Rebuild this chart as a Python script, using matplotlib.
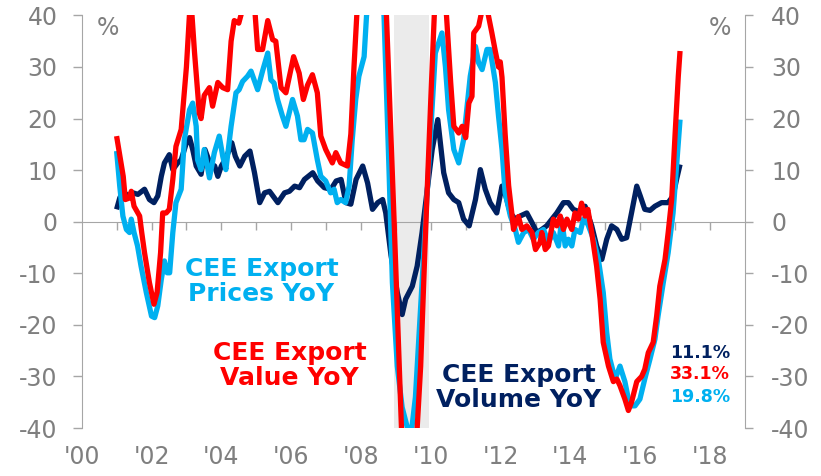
import matplotlib
matplotlib.use("Agg")
import matplotlib.pyplot as plt
import numpy as np

plt.rcParams['font.family'] = ['DejaVu Sans']
plt.rcParams['axes.unicode_minus'] = False

# ---------------- data (decimal years, % YoY) ----------------
value_x = [2001.0, 2001.19, 2001.25, 2001.37, 2001.42, 2001.5, 2001.66, 2001.72, 2001.8, 2001.94,
           2002.07, 2002.16, 2002.26, 2002.32, 2002.42, 2002.51, 2002.61, 2002.7, 2002.85, 2003.0,
           2003.12, 2003.23, 2003.37, 2003.42, 2003.51, 2003.66, 2003.75, 2003.9, 2004.04, 2004.18,
           2004.28, 2004.37, 2004.5, 2004.6, 2004.75, 2004.95, 2005.04, 2005.18, 2005.33, 2005.47,
           2005.56, 2005.71, 2005.85, 2005.97, 2006.07, 2006.23, 2006.35, 2006.47, 2006.61, 2006.75,
           2006.85, 2006.99, 2007.18, 2007.28, 2007.42, 2007.61, 2007.71, 2007.8, 2007.88, 2008.1,
           2008.4, 2008.62, 2008.73, 2008.95, 2009.16, 2009.4, 2009.61, 2009.71, 2009.85, 2010.0,
           2010.1, 2010.3, 2010.45, 2010.57, 2010.66, 2010.8, 2010.9, 2011.0, 2011.09, 2011.18,
           2011.23, 2011.37, 2011.5, 2011.62, 2011.75, 2011.85, 2011.94, 2011.99, 2012.04, 2012.13,
           2012.23, 2012.32, 2012.37, 2012.51, 2012.61, 2012.75, 2012.9, 2013.0, 2013.13, 2013.18,
           2013.28, 2013.37, 2013.51, 2013.61, 2013.71, 2013.8, 2013.9, 2014.04, 2014.13, 2014.23,
           2014.32, 2014.42, 2014.5, 2014.61, 2014.75, 2014.85, 2014.94, 2015.09, 2015.23, 2015.33,
           2015.42, 2015.56, 2015.66, 2015.75, 2015.9, 2016.04, 2016.13, 2016.23, 2016.37, 2016.47,
           2016.56, 2016.71, 2016.8, 2016.9, 2017.0, 2017.09, 2017.14]
value_y = [16.6, 8.8, 4.3, 4.6, 5.9, 3.0, 1.1, -2.1, -6.0, -11.8,
           -16.0, -13.7, -6.0, 1.7, 1.7, 2.4, 8.2, 14.6, 17.9, 30.0,
           44.0, 33.0, 21.0, 20.0, 24.5, 26.0, 22.4, 27.0, 26.0, 25.6,
           35.0, 39.0, 38.5, 41.0, 46.0, 42.0, 33.4, 33.4, 39.0, 35.3,
           35.0, 26.0, 25.0, 28.8, 32.0, 28.8, 23.7, 26.5, 28.5, 25.0,
           16.6, 14.0, 11.4, 13.4, 11.4, 10.8, 17.0, 30.0, 40.0, 50.0,
           50.0, 45.0, 40.0, 0.0, -40.0, -48.0, -40.0, -28.0, -2.0, 23.7,
           40.0, 48.0, 40.0, 27.0, 18.5, 17.2, 18.5, 16.3, 23.0, 24.3,
           36.6, 37.9, 42.0, 41.0, 36.6, 33.0, 30.0, 31.0, 28.0, 17.0,
           7.0, 1.7, -1.5, 1.0, -1.5, -0.8, -2.1, -5.4, -4.0, -2.1,
           -5.4, -4.7, 0.5, -0.8, 1.1, -1.5, 0.5, -1.5, 1.7, 0.5,
           3.6, 1.1, 2.4, -2.1, -8.6, -15.0, -23.4, -28.0, -31.0, -30.5,
           -31.8, -34.4, -36.6, -35.0, -31.0, -30.0, -28.6, -25.4, -23.4, -18.3,
           -12.5, -7.3, -2.1, 4.3, 17.2, 28.2, 33.1]

prices_x = [2001.0, 2001.09, 2001.18, 2001.28, 2001.37, 2001.42, 2001.5, 2001.6, 2001.7, 2001.85,
            2002.0, 2002.09, 2002.18, 2002.28, 2002.37, 2002.45, 2002.52, 2002.61, 2002.7, 2002.85,
            2002.94, 2003.09, 2003.18, 2003.28, 2003.32, 2003.42, 2003.51, 2003.66, 2003.8, 2003.94,
            2004.04, 2004.13, 2004.28, 2004.42, 2004.51, 2004.61, 2004.75, 2004.85, 2004.94, 2005.04,
            2005.18, 2005.33, 2005.42, 2005.51, 2005.61, 2005.75, 2005.85, 2005.94, 2006.04, 2006.18,
            2006.28, 2006.37, 2006.47, 2006.61, 2006.75, 2006.85, 2006.99, 2007.13, 2007.23, 2007.32,
            2007.42, 2007.56, 2007.66, 2007.75, 2007.85, 2007.94, 2008.09, 2008.16, 2008.4, 2008.66,
            2008.8, 2008.9, 2009.04, 2009.18, 2009.37, 2009.44, 2009.56, 2009.75, 2009.94, 2010.13,
            2010.32, 2010.42, 2010.51, 2010.66, 2010.8, 2010.94, 2011.04, 2011.13, 2011.28, 2011.37,
            2011.47, 2011.61, 2011.7, 2011.85, 2011.94, 2012.04, 2012.13, 2012.28, 2012.42, 2012.51,
            2012.66, 2012.8, 2012.94, 2013.08, 2013.23, 2013.37, 2013.51, 2013.66, 2013.75, 2013.85,
            2013.94, 2014.04, 2014.13, 2014.28, 2014.37, 2014.5, 2014.66, 2014.8, 2014.94, 2015.04,
            2015.13, 2015.28, 2015.42, 2015.56, 2015.7, 2015.85, 2015.99, 2016.13, 2016.28, 2016.42,
            2016.51, 2016.66, 2016.8, 2016.94, 2017.04, 2017.14]
prices_y = [13.7, 6.9, 1.1, -1.5, -2.1, 0.5, -2.1, -4.7, -8.6, -13.7,
            -18.3, -18.6, -16.3, -11.2, -7.6, -9.9, -9.9, -2.1, 3.7, 6.3,
            15.9, 21.7, 23.0, 18.5, 12.0, 10.1, 14.0, 8.5, 13.4, 16.6,
            12.7, 10.1, 18.5, 25.0, 25.6, 27.2, 28.2, 29.2, 27.5, 25.6,
            29.2, 32.7, 27.5, 26.9, 23.7, 20.5, 18.5, 21.0, 23.7, 20.5,
            15.9, 15.9, 17.9, 17.2, 12.0, 8.8, 7.9, 5.6, 6.3, 3.7,
            4.3, 3.7, 6.9, 15.9, 23.7, 28.2, 32.0, 40.0, 48.0, 40.0,
            10.8, -11.8, -28.0, -36.0, -41.0, -41.0, -34.0, -11.8, 10.8, 32.7,
            36.6, 30.0, 21.7, 14.0, 11.4, 15.9, 22.4, 28.2, 34.0, 30.8,
            29.5, 33.4, 33.4, 27.0, 20.5, 14.0, 5.6, 1.1, -1.5, -4.0,
            -2.1, -1.5, -3.4, -2.1, -1.5, -4.0, -2.1, -4.7, 0.5, -4.7,
            -3.4, -4.7, -1.5, -2.1, 0.5, -0.5, -3.4, -7.3, -13.7, -21.5,
            -26.6, -30.5, -28.0, -31.0, -35.7, -35.7, -34.4, -30.5, -26.6, -22.8,
            -18.3, -11.8, -6.0, 1.7, 10.8, 19.8]

volume_x = [2001.0, 2001.09, 2001.18, 2001.33, 2001.47, 2001.61, 2001.8, 2001.94, 2002.07, 2002.18,
            2002.28, 2002.37, 2002.51, 2002.61, 2002.75, 2002.85, 2003.0, 2003.09, 2003.18, 2003.28,
            2003.42, 2003.53, 2003.67, 2003.81, 2003.9, 2004.0, 2004.14, 2004.3, 2004.4, 2004.53,
            2004.67, 2004.82, 2004.95, 2005.1, 2005.24, 2005.38, 2005.62, 2005.81, 2005.95, 2006.1,
            2006.24, 2006.38, 2006.62, 2006.76, 2006.95, 2007.14, 2007.29, 2007.43, 2007.57, 2007.71,
            2007.86, 2008.05, 2008.19, 2008.33, 2008.48, 2008.62, 2008.71, 2008.86, 2009.04, 2009.18,
            2009.28, 2009.47, 2009.61, 2009.75, 2009.9, 2010.04, 2010.2, 2010.37, 2010.51, 2010.66,
            2010.8, 2010.94, 2011.1, 2011.28, 2011.42, 2011.56, 2011.7, 2011.89, 2012.04, 2012.13,
            2012.28, 2012.42, 2012.56, 2012.75, 2012.9, 2013.04, 2013.18, 2013.32, 2013.47, 2013.61,
            2013.8, 2013.94, 2014.08, 2014.23, 2014.42, 2014.61, 2014.75, 2014.9, 2015.04, 2015.18,
            2015.33, 2015.47, 2015.61, 2015.75, 2015.9, 2016.0, 2016.13, 2016.28, 2016.42, 2016.61,
            2016.8, 2016.94, 2017.04, 2017.14]
volume_y = [2.4, 4.6, 5.9, 5.0, 5.6, 5.3, 6.3, 4.3, 3.7, 5.0,
            8.8, 11.4, 13.0, 10.1, 11.4, 12.0, 15.3, 16.3, 14.0, 10.8,
            9.2, 14.0, 11.4, 10.8, 8.8, 10.8, 12.4, 15.3, 12.7, 10.8,
            12.7, 13.7, 9.5, 3.7, 5.6, 5.9, 3.7, 5.6, 5.9, 6.9,
            6.6, 8.2, 9.5, 7.9, 6.6, 6.3, 7.9, 8.2, 3.7, 3.4,
            8.2, 10.8, 7.5, 2.4, 3.7, 4.3, 1.7, -6.5, -13.7, -18.0,
            -15.0, -12.5, -8.6, -2.1, 6.3, 14.0, 19.8, 9.5, 5.6, 4.3,
            3.7, 0.5, -0.8, 4.3, 10.1, 6.3, 3.7, 1.7, 6.9, 5.5,
            1.7, 0.5, 1.1, 1.7, -0.2, -2.1, -1.5, -0.8, 0.5, 1.7,
            3.7, 3.7, 2.4, 2.0, 3.0, -0.8, -4.7, -7.3, -3.4, -0.8,
            -1.5, -3.4, -3.1, 1.7, 6.9, 5.0, 2.4, 2.2, 3.0, 3.7,
            3.7, 5.0, 8.2, 11.1]

recession_start, recession_end = 2008.95, 2009.95

year_ticks = list(range(2001, 2019))
label_years = list(range(2000, 2019, 2))
label_text = ["'00", "'02", "'04", "'06", "'08", "'10", "'12", "'14", "'16", "'18"]
y_ticks = [-40, -30, -20, -10, 0, 10, 20, 30, 40]

last_labels = ["11.1%", "33.1%", "19.8%"]

# ---------------- styling ----------------
NAVY = '#002060'
RED = '#FF0000'
LBLUE = '#00B0F0'
GREY_TXT = '#7F7F7F'
GREY_AX = '#A6A6A6'

fig = plt.figure(figsize=(8.21, 4.76), dpi=100)
ax = fig.add_axes([0.0995, 0.1008, 0.8079, 0.8668])
ax.set_xlim(2000, 2019)
ax.set_ylim(-40, 40)

ax.axvspan(recession_start, recession_end, color='#EBEBEB', zorder=1, lw=0)

kw = dict(lw=3.8, solid_joinstyle='round', solid_capstyle='butt')
ax.plot(volume_x, volume_y, color=NAVY, zorder=3, **kw)
ax.plot(prices_x, prices_y, color=LBLUE, zorder=4, **kw)
ax.plot(value_x, value_y, color=RED, zorder=5, **kw)

# spines
ax.spines['top'].set_visible(False)
ax.spines['right'].set_visible(False)
ax.spines['left'].set_color(GREY_AX)
ax.spines['bottom'].set_color(GREY_AX)
ax.spines['bottom'].set_position(('data', 0))
ax.spines['bottom'].set_zorder(2)

ax.set_xticks(year_ticks)
ax.tick_params(axis='x', direction='out', length=6, width=1, color=GREY_AX, labelbottom=False)
ax.set_yticks(y_ticks)
ax.set_yticklabels([str(v) for v in y_ticks])
ax.tick_params(axis='y', direction='out', length=6.5, width=1, color=GREY_AX,
               labelsize=17, labelcolor=GREY_TXT, pad=11)

sec = ax.secondary_xaxis('bottom')
sec.set_xticks(label_years)
sec.set_xticklabels(label_text)
sec.tick_params(length=0, labelsize=17, labelcolor=GREY_TXT, pad=12)
sec.spines['bottom'].set_visible(False)

ax2 = ax.twinx()
ax2.set_ylim(-40, 40)
ax2.set_yticks(y_ticks)
ax2.set_yticklabels([str(v) for v in y_ticks])
for s in ['top', 'left', 'bottom']:
    ax2.spines[s].set_visible(False)
ax2.spines['right'].set_color(GREY_AX)
ax2.tick_params(axis='y', direction='out', length=6, width=1, color=GREY_AX,
                labelsize=17, labelcolor=GREY_TXT, pad=13)

ax.text(0.04, 0.969, '%', transform=ax.transAxes, fontsize=17, color=GREY_TXT,
        ha='center', va='center')
ax.text(0.962, 0.969, '%', transform=ax.transAxes, fontsize=17, color=GREY_TXT,
        ha='center', va='center')

tkw = dict(fontsize=18, fontweight='bold', ha='center', va='center', linespacing=1.05, zorder=6)
ax.text(2005.15, -11.5, 'CEE Export\nPrices YoY', color=LBLUE, **tkw)
ax.text(2005.95, -27.8, 'CEE Export\nValue YoY', color=RED, **tkw)
ax.text(2012.51, -32.2, 'CEE Export\nVolume YoY', color=NAVY, **tkw)

nkw = dict(fontsize=12.5, fontweight='bold', ha='center', va='center', zorder=6)
ax.text(2017.71, -25.4, last_labels[0], color=NAVY, **nkw)
ax.text(2017.71, -29.5, last_labels[1], color=RED, **nkw)
ax.text(2017.71, -33.9, last_labels[2], color=LBLUE, **nkw)

fig.savefig('out.png', dpi=100)
